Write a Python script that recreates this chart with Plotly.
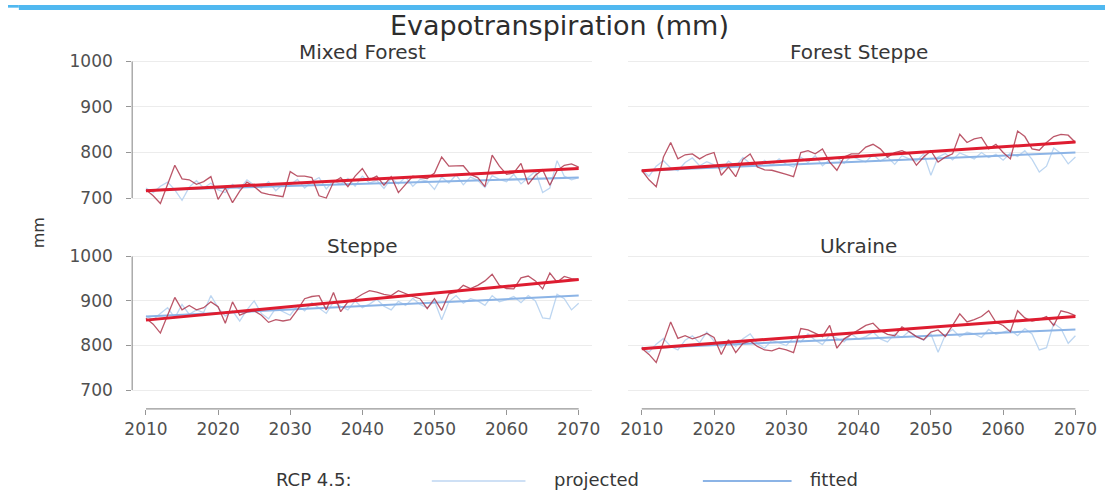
import plotly.graph_objects as go

W, H = 1113, 492
FONT = "DejaVu Sans"

years = list(range(2010, 2071))
regions = ["Mixed Forest", "Forest Steppe", "Steppe", "Ukraine"]
year_ticks = [2010, 2020, 2030, 2040, 2050, 2060, 2070]
mm_ticks = [700, 800, 900, 1000]

# RCP 4.5 projected evapotranspiration (mm), 2010-2070
mixed_forest_rcp45 = [722, 712, 726, 735, 718, 695, 724, 738, 722, 733, 718, 712, 730, 720, 740, 728,
                      722, 736, 716, 731, 729, 741, 722, 736, 745, 720, 738, 730, 743, 726, 748, 733,
                      739, 721, 743, 731, 746, 726, 741, 737, 719, 746, 733, 751, 729, 746, 739, 723,
                      749, 741, 736, 752, 731, 746, 759, 712, 722, 782, 748, 740, 745]
forest_steppe_rcp45 = [763, 748, 770, 782, 766, 760, 778, 788, 771, 780, 773, 762, 781, 770, 789, 776,
                       768, 783, 772, 786, 774, 768, 790, 778, 793, 771, 784, 789, 776, 792, 785, 779,
                       796, 781, 790, 774, 793, 786, 781, 797, 750, 790, 798, 784, 799, 792, 786, 800,
                       789, 796, 783, 799, 791, 804, 785, 757, 770, 810, 798, 775, 790]
steppe_rcp45 = [866, 858, 872, 885, 862, 892, 870, 880, 874, 912, 885, 866, 878, 855, 880, 900,
                872, 860, 884, 876, 868, 890, 878, 896, 884, 872, 898, 888, 880, 900, 885, 893,
                904, 888, 880, 899, 890, 906, 892, 885, 900, 858, 898, 912, 895, 905, 900, 890,
                912, 898, 903, 910, 896, 912, 900, 862, 860, 915, 905, 880, 895]
ukraine_rcp45 = [797, 785, 803, 816, 798, 790, 812, 822, 806, 830, 810, 796, 812, 798, 815, 826,
                 804, 794, 812, 806, 800, 818, 808, 826, 812, 802, 824, 816, 808, 826, 814, 820,
                 830, 815, 808, 826, 818, 832, 820, 812, 826, 785, 824, 836, 820, 830, 826, 818,
                 836, 825, 830, 835, 822, 838, 826, 790, 795, 850, 838, 805, 822]

# RCP 8.5 projected evapotranspiration (mm), 2010-2070
mixed_forest_rcp85 = [718, 705, 688, 730, 772, 742, 740, 730, 736, 747, 697, 722, 690, 715, 735, 725,
                      712, 708, 705, 703, 758, 748, 748, 745, 705, 700, 735, 745, 725, 748, 765, 740,
                      748, 728, 747, 712, 730, 748, 745, 743, 755, 790, 770, 770, 771, 752, 745, 725,
                      794, 770, 752, 755, 776, 730, 750, 762, 728, 760, 772, 775, 768]
forest_steppe_rcp85 = [761, 740, 725, 790, 822, 786, 795, 797, 786, 795, 800, 750, 768, 747, 785, 797,
                       768, 762, 761, 757, 752, 747, 800, 804, 797, 808, 779, 761, 790, 797, 797, 812,
                       818, 808, 790, 800, 804, 797, 772, 790, 804, 779, 790, 797, 840, 822, 830, 833,
                       808, 818, 800, 786, 847, 835, 808, 805, 822, 835, 840, 838, 822]
steppe_rcp85 = [861, 848, 828, 870, 908, 880, 890, 880, 885, 898, 887, 850, 898, 868, 875, 878,
                868, 852, 858, 855, 858, 880, 905, 910, 912, 880, 919, 876, 898, 905, 915, 923,
                920, 915, 912, 923, 916, 910, 905, 883, 905, 879, 916, 920, 935, 928, 935, 945,
                960, 935, 928, 927, 952, 956, 945, 927, 963, 942, 955, 950, 948]
ukraine_rcp85 = [794, 780, 762, 810, 853, 816, 822, 815, 820, 827, 818, 780, 813, 784, 805, 810,
                 798, 790, 788, 794, 790, 784, 838, 835, 828, 820, 845, 794, 815, 825, 835, 845,
                 850, 834, 825, 822, 842, 830, 820, 813, 830, 835, 820, 845, 871, 853, 858, 865,
                 878, 852, 845, 831, 878, 862, 855, 858, 865, 845, 878, 874, 867]

# Linear trend values at 2010 and 2070
fit45_start = [717, 760, 865, 794]
fit45_end = [745, 800, 912, 836]
fit85_start = [716, 760, 857, 793]
fit85_end = [765, 823, 948, 865]

rcp45 = [mixed_forest_rcp45, forest_steppe_rcp45, steppe_rcp45, ukraine_rcp45]
rcp85 = [mixed_forest_rcp85, forest_steppe_rcp85, steppe_rcp85, ukraine_rcp85]

C_PROJ45 = "rgba(185,212,240,0.95)"
C_FIT45 = "rgb(140,180,230)"
C_PROJ85 = "rgba(170,45,68,0.8)"
C_FIT85 = "rgb(222,28,48)"
GRID = "rgb(236,236,236)"
AXIS = "rgb(150,150,150)"
TEXT = "rgb(80,80,80)"
DARK = "rgb(55,55,55)"

# panel geometry in pixels: (left, right) and (top, bottom, y-range)
cols = [(126, 593), (629, 1097)]
rows = [(52, 205, [678.3, 1010.9]), (249, 408, [657.8, 1011.1])]
xr = [2008.09, 2071.91]


def fx(px):
    return px / W


def fy(py):
    return 1 - py / H


def label(text, x_px, y_px, size, color=DARK, angle=0):
    return dict(text=text, x=fx(x_px), y=fy(y_px), xref="paper", yref="paper",
                xanchor="center", yanchor="middle", showarrow=False, textangle=angle,
                font=dict(size=size, color=color))


fig = go.Figure()
layout = dict(
    width=W, height=H,
    margin=dict(l=0, r=0, t=0, b=0),
    paper_bgcolor="white", plot_bgcolor="white",
    showlegend=False,
    font=dict(family=FONT, color=TEXT),
)
annotations = []
shapes = []

for i, name in enumerate(regions):
    r, c = divmod(i, 2)
    n = "" if i == 0 else str(i + 1)
    xa, ya = "x" + n, "y" + n
    left, right = cols[c]
    top, bottom, yr = rows[r]

    fig.add_trace(go.Scatter(x=years, y=rcp45[i], mode="lines", xaxis=xa, yaxis=ya,
                             line=dict(color=C_PROJ45, width=1.3), name="projected"))
    fig.add_trace(go.Scatter(x=[years[0], years[-1]], y=[fit45_start[i], fit45_end[i]],
                             mode="lines", xaxis=xa, yaxis=ya,
                             line=dict(color=C_FIT45, width=2), name="fitted"))
    fig.add_trace(go.Scatter(x=years, y=rcp85[i], mode="lines", xaxis=xa, yaxis=ya,
                             line=dict(color=C_PROJ85, width=1.3), name="projected RCP 8.5"))
    fig.add_trace(go.Scatter(x=[years[0], years[-1]], y=[fit85_start[i], fit85_end[i]],
                             mode="lines", xaxis=xa, yaxis=ya,
                             line=dict(color=C_FIT85, width=3), name="fitted RCP 8.5"))

    bottom_row = r == 1
    left_col = c == 0
    layout["xaxis" + n] = dict(
        domain=[fx(left), fx(right)], range=xr, anchor=ya,
        showgrid=False, zeroline=False, showline=False,
        tickvals=year_ticks if bottom_row else [],
        showticklabels=bottom_row,
        ticks="outside" if bottom_row else "", ticklen=5, tickcolor=AXIS,
        tickfont=dict(size=17, color=TEXT), ticklabelstandoff=0,
    )
    layout["yaxis" + n] = dict(
        domain=[fy(bottom), fy(top)], range=yr, anchor=xa,
        showgrid=True, gridcolor=GRID, gridwidth=1, zeroline=False, showline=False,
        tickvals=mm_ticks, showticklabels=left_col,
        ticks="outside" if left_col else "", ticklen=5, tickcolor=AXIS,
        tickfont=dict(size=17, color=TEXT), ticklabelstandoff=10,
    )

    # panel heading
    annotations.append(label(name, (left + right) / 2, 47 if r == 0 else 243, 20))
    # axis lines spanning the tick range only
    if left_col:
        shapes.append(dict(type="line", xref=xa + " domain", yref=ya,
                           x0=0, x1=0, y0=mm_ticks[0], y1=mm_ticks[-1],
                           line=dict(color=AXIS, width=1.2)))
    if bottom_row:
        shapes.append(dict(type="line", xref=xa, yref=ya + " domain",
                           x0=year_ticks[0], x1=year_ticks[-1], y0=0, y1=0,
                           line=dict(color=AXIS, width=1.2)))

# title and axis title
annotations.append(label("Evapotranspiration (mm)", 560, 21, 27, color="rgb(45,45,45)"))
annotations.append(label("mm", 31, 230, 16, angle=-90))

# legend row
annotations.append(label("RCP 4.5:", 310, 479, 18))
annotations.append(label("projected", 597, 479, 18))
annotations.append(label("fitted", 838, 479, 18))
shapes.append(dict(type="line", xref="paper", yref="paper", x0=fx(430), x1=fx(525),
                   y0=fy(481), y1=fy(481), line=dict(color=C_PROJ45, width=1.5)))
shapes.append(dict(type="line", xref="paper", yref="paper", x0=fx(705), x1=fx(795),
                   y0=fy(481), y1=fy(481), line=dict(color=C_FIT45, width=2)))

# top frame band
shapes.append(dict(type="rect", xref="paper", yref="paper", x0=fx(11), x1=1, y0=fy(5), y1=1,
                   line=dict(width=0), fillcolor="rgb(80,184,240)"))
shapes.append(dict(type="rect", xref="paper", yref="paper", x0=0, x1=fx(11), y0=fy(2.7), y1=1,
                   line=dict(width=0), fillcolor="rgb(80,184,240)"))

layout["annotations"] = annotations
layout["shapes"] = shapes
fig.update_layout(**layout)
fig.write_html("out.html")
